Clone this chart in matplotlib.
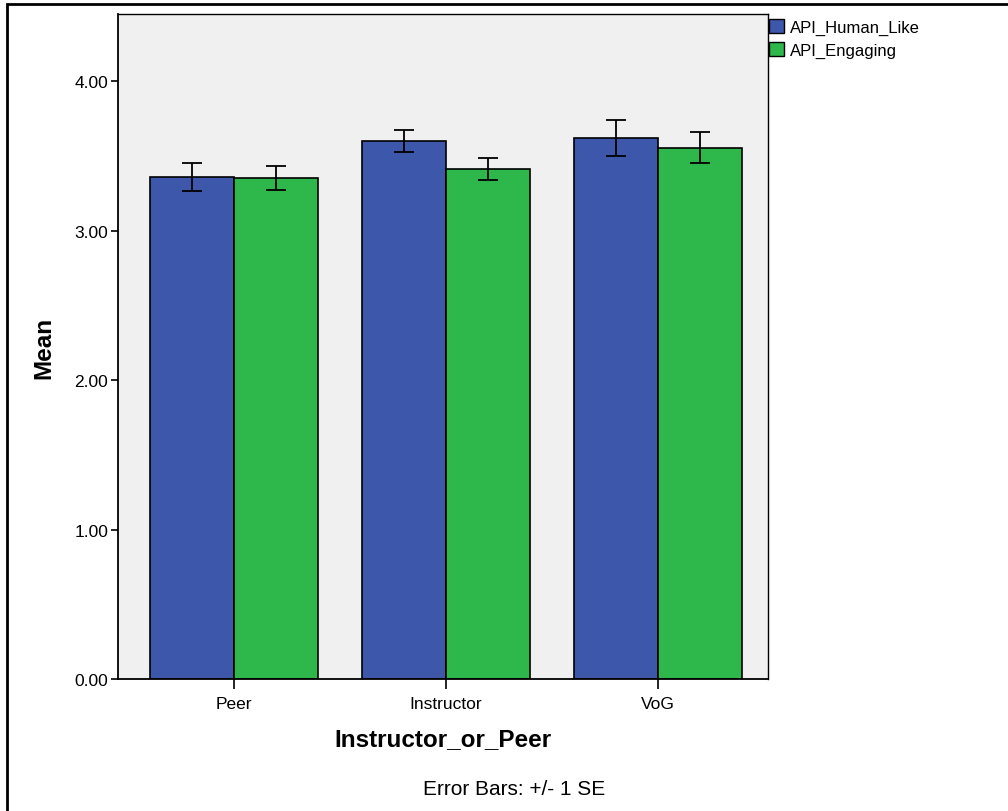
import matplotlib

matplotlib.use("Agg")

import matplotlib.pyplot as plt
import numpy as np
from matplotlib.patches import Patch, Rectangle

groups = ["Peer", "Instructor", "VoG"]
series_names = ["API_Human_Like", "API_Engaging"]
human_like_means = [3.36, 3.60, 3.62]
human_like_se = [0.096, 0.075, 0.12]
engaging_means = [3.35, 3.41, 3.555]
engaging_se = [0.08, 0.074, 0.105]
y_ticks = [0.0, 1.0, 2.0, 3.0, 4.0]

BLUE = "#3d58ab"
GREEN = "#2eb84b"

plt.rcParams["font.family"] = ["Liberation Sans", "DejaVu Sans"]

fig = plt.figure(figsize=(10.08, 8.12), dpi=100)
ax = fig.add_axes([118 / 1008, 1 - 680 / 812, 650 / 1008, 665 / 812])
ax.set_facecolor("#f0f0f0")

x = np.arange(len(groups))
width = 0.396

ax.bar(x - width / 2, human_like_means, width, color=BLUE, edgecolor="black", linewidth=1.2, zorder=2)
ax.bar(x + width / 2, engaging_means, width, color=GREEN, edgecolor="black", linewidth=1.2, zorder=2)
ax.errorbar(x - width / 2, human_like_means, yerr=human_like_se, fmt="none",
            ecolor="black", elinewidth=1.3, capsize=7.5, capthick=1.3, zorder=3)
ax.errorbar(x + width / 2, engaging_means, yerr=engaging_se, fmt="none",
            ecolor="black", elinewidth=1.3, capsize=7.5, capthick=1.3, zorder=3)

ax.set_xlim(-0.545, 2.518)
ax.set_ylim(0, 4.45)
ax.set_xticks(x)
ax.set_xticklabels(groups, fontsize=12.5)
ax.set_yticks(y_ticks)
ax.set_yticklabels([f"{v:.2f}" for v in y_ticks], fontsize=12.5)
ax.tick_params(axis="x", length=7, width=1.2, pad=5)
ax.tick_params(axis="y", length=5, width=1.2, pad=2)

for side in ["left", "bottom"]:
    ax.spines[side].set_linewidth(1.3)
for side in ["top", "right"]:
    ax.spines[side].set_linewidth(1.0)

ax.set_xlabel("Instructor_or_Peer", fontsize=17.5, fontweight="bold", labelpad=12)
ax.set_ylabel("Mean", fontsize=17.5, fontweight="bold", labelpad=14)

handles = [
    Patch(facecolor=BLUE, edgecolor="black", linewidth=1.0),
    Patch(facecolor=GREEN, edgecolor="black", linewidth=1.0),
]
fig.legend(handles, series_names, loc="upper left", bbox_to_anchor=(766 / 1008, 1 - 17 / 812),
           frameon=False, fontsize=12, handlelength=0.9, handleheight=0.9,
           handletextpad=0.35, labelspacing=0.42, borderaxespad=0, borderpad=0.2)

fig.text(514 / 1008, 1 - 790 / 812, "Error Bars: +/- 1 SE", ha="center", va="center", fontsize=15)

fig.patches.append(Rectangle((7 / 1008, -0.1), 1.2, 1 - 5 / 812 + 0.1, transform=fig.transFigure,
                             fill=False, edgecolor="black", linewidth=2.0))

fig.savefig("out.png", dpi=100)
plt.close(fig)
